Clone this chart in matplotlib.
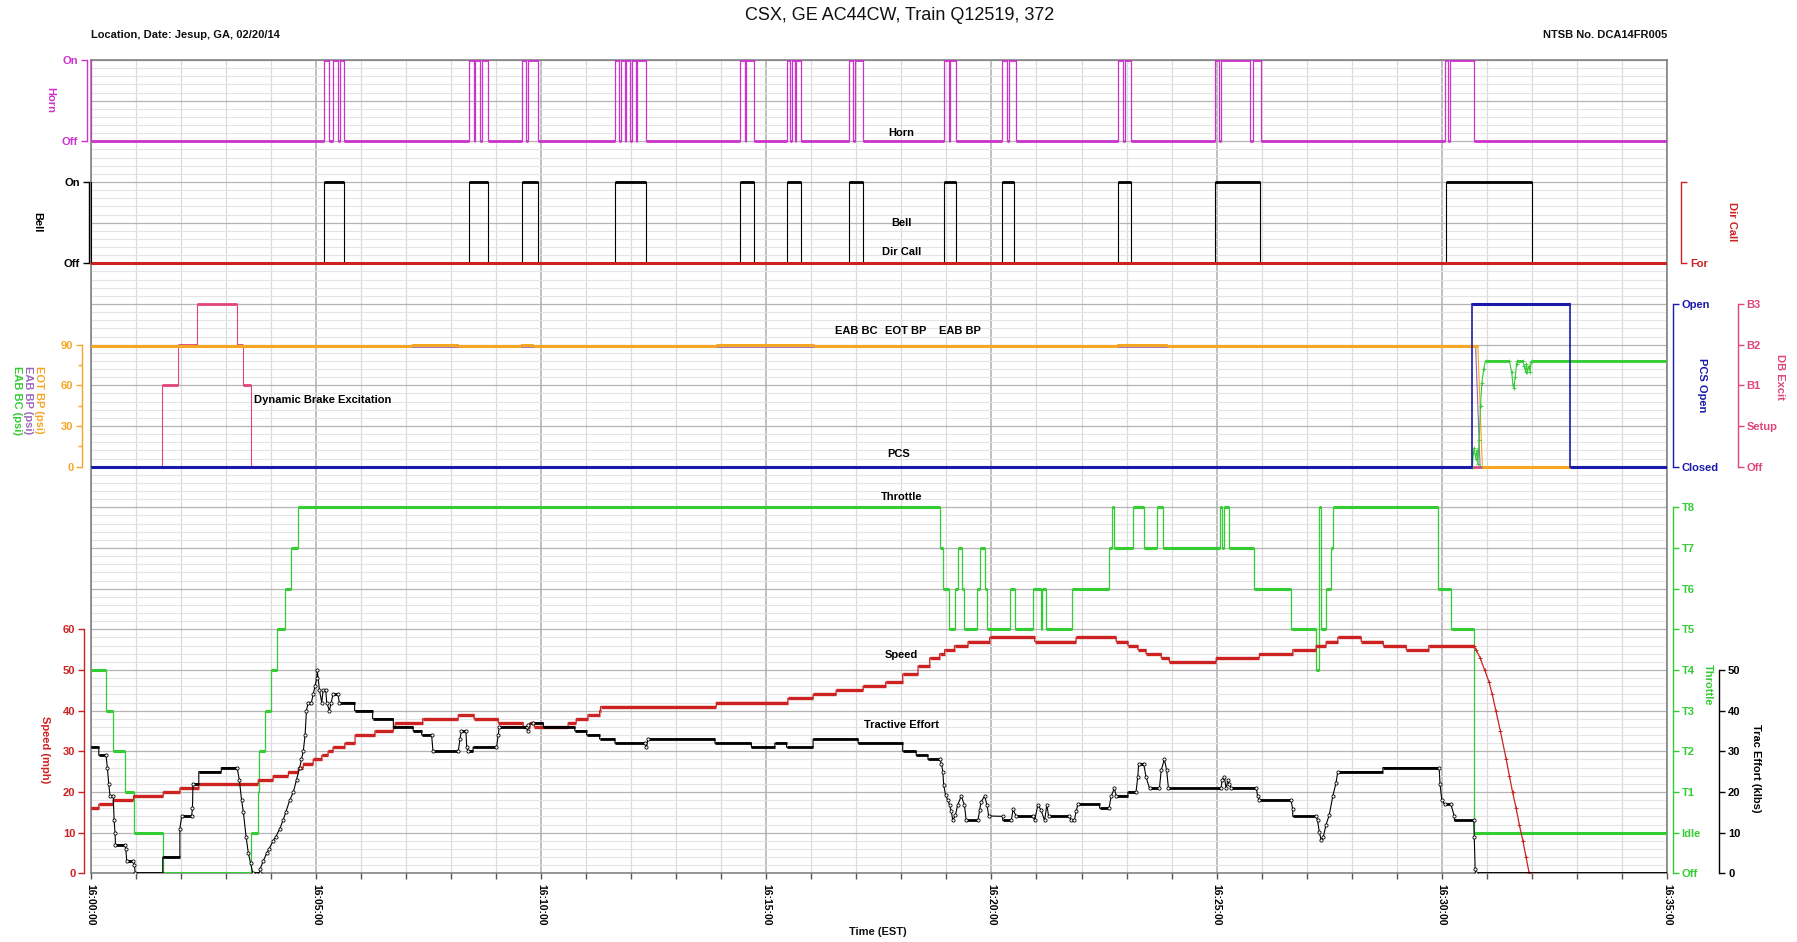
import matplotlib
matplotlib.use('Agg')
import matplotlib.pyplot as plt
import numpy as np

plt.rcParams['font.family'] = ['Liberation Sans', 'DejaVu Sans']

W, H = 1797, 942
# plot frame in pixels
PX_L, PX_R, PX_T, PX_B = 90.7, 1667.0, 60.0, 873.3
T_END = 35.0          # minutes after 16:00:00

C_HORN = '#CC33CC'
C_RED = '#CC2222'
C_ORANGE = '#F5A623'
C_PURPLE = '#9966BB'
C_GREEN = '#33CC33'
C_BLUE = '#1A1AAA'
C_DB = '#E0457B'
C_BLACK = '#000000'

# ---- recorder channels (time in minutes after 16:00:00) ----
HORN_ON_START = [0.00, 5.18, 5.38, 5.53, 8.39, 8.53, 8.68, 9.57, 9.70, 11.64, 11.78, 11.89,
                 12.01, 12.12, 14.41, 14.55, 15.45, 15.58, 15.66, 16.83, 16.97, 18.94, 19.09,
                 20.24, 20.40, 22.82, 22.96, 24.96, 25.09, 25.80, 30.07, 30.18]
HORN_ON_END = [0.01, 5.30, 5.50, 5.63, 8.50, 8.65, 8.82, 9.66, 9.94, 11.72, 11.86, 11.97,
               12.10, 12.32, 14.52, 14.72, 15.53, 15.63, 15.78, 16.92, 17.15, 19.05, 19.22,
               20.35, 20.55, 22.93, 23.10, 25.05, 25.73, 25.99, 30.13, 30.71]

BELL_ON_START = [0.00, 5.18, 8.39, 9.58, 11.64, 14.41, 15.45, 16.83, 18.94, 20.24, 22.82, 24.96, 30.10]
BELL_ON_END = [0.01, 5.63, 8.82, 9.94, 12.32, 14.72, 15.78, 17.15, 19.22, 20.51, 23.10, 25.97, 32.01]

DB_LABELS = ['Off', 'Setup', 'B1', 'B2', 'B3']
DB_T = [0.0, 1.59, 1.94, 2.37, 3.24, 3.39, 3.55]
DB_STEP = [0, 2, 3, 4, 3, 2, 0]

PCS_LABELS = ['Closed', 'Open']
PCS_T = [0.0, 30.68, 32.85]
PCS_STATE = [0, 1, 0]

EOT_T = [0, 7.14, 7.14, 8.16, 8.16, 9.56, 9.56, 9.82, 9.82, 13.9, 13.9, 16.05, 16.05,
         22.8, 22.8, 23.9, 23.9, 30.80, 30.90, 35.0]
EOT_PSI = [89, 89, 90, 90, 89, 89, 90, 90, 89, 89, 90, 90, 89, 89, 90, 90, 89, 89, 0, 0]

EABBP_T = [0, 30.75, 30.85, 35.0]
EABBP_PSI = [89, 89, 0, 0]

EABBC_T = [0, 30.68, 30.70, 30.72, 30.75, 30.78, 30.80, 30.83, 30.86, 30.89, 30.93, 30.97,
           31.50, 31.55, 31.58, 31.60, 31.63, 31.66, 31.68, 31.80, 31.83, 31.86, 31.88,
           31.90, 31.93, 31.96, 31.98, 32.00, 35.0]
EABBC_PSI = [0, 0, 10, 14, 6, 12, 2, 20, 45, 62, 72, 78,
             78, 70, 60, 58, 66, 76, 78, 78, 74, 70, 76,
             70, 74, 70, 77, 78, 78]

THROTTLE_LABELS = ['Off', 'Idle', 'T1', 'T2', 'T3', 'T4', 'T5', 'T6', 'T7', 'T8']
THROTTLE_T = [0.0, 0.34, 0.50, 0.76, 0.97, 1.60, 3.55, 3.72, 3.74, 3.87, 4.00, 4.13, 4.31,
              4.45, 4.60, 18.86, 18.92, 19.05, 19.20, 19.25, 19.35, 19.40, 19.68, 19.74,
              19.85, 19.90, 20.42, 20.53, 20.93, 21.09, 21.13, 21.22, 21.79, 22.61, 22.67,
              22.73, 23.15, 23.38, 23.67, 23.80, 25.08, 25.12, 25.16, 25.27, 25.84, 26.65,
              27.21, 27.28, 27.32, 27.43, 27.53, 27.59, 29.91, 30.21, 30.72]
THROTTLE_NOTCH = [5, 4, 3, 2, 1, 0, 1, 2, 3, 4, 5, 6, 7,
                  8, 9, 8, 7, 6, 7, 8, 7, 6, 7, 8,
                  7, 6, 7, 6, 7, 6, 7, 6, 7, 8, 9,
                  8, 9, 8, 9, 8, 9, 8, 9, 8, 7, 6,
                  5, 9, 6, 7, 8, 9, 7, 6, 1]

SPEED_T = [0.0, 0.18, 0.50, 0.95, 1.61, 1.98, 2.40, 3.72, 4.05, 4.39, 4.61, 4.72, 4.94,
           5.13, 5.27, 5.38, 5.64, 5.87, 6.31, 6.72, 6.76, 7.37, 8.16, 8.51, 9.05, 9.60,
           9.75, 9.85, 10.60, 10.78, 11.04, 11.30, 11.32, 13.89, 15.48, 16.04, 16.55, 17.15,
           17.65, 18.03, 18.37, 18.63, 18.85, 18.96, 19.18, 19.48, 19.96, 20.96, 21.88,
           22.77, 23.03, 23.25, 23.43, 23.77, 23.95, 24.99, 25.95, 26.69, 27.21, 27.43,
           27.69, 28.21, 28.70, 29.21, 29.71]
SPEED_MPH = [16, 17, 18, 19, 20, 21, 22, 23, 24, 25, 26, 27, 28,
             29, 30, 31, 32, 34, 35, 36, 37, 38, 39, 38, 37, 36,
             37, 36, 37, 38, 39, 40, 41, 42, 43, 44, 45, 46,
             47, 49, 51, 53, 54, 55, 56, 57, 58, 57, 58,
             57, 56, 55, 54, 53, 52, 53, 54, 55, 56, 57,
             58, 57, 56, 55, 56]
SPEED_DROP_T = [30.71, 30.76, 30.85, 30.95, 31.05, 31.12, 31.20, 31.30, 31.43, 31.50,
                31.57, 31.65, 31.72, 31.80, 31.87, 31.94]
SPEED_DROP_MPH = [56, 55, 53, 50, 47, 44, 40, 35, 28, 24, 20, 16, 12, 8, 4, 0]

TE_T = [0, 0.18, 0.18, 0.34, 0.37, 0.40, 0.43, 0.50, 0.52, 0.54, 0.55, 0.76, 0.78, 0.80,
        0.95, 0.97, 0.99, 1.60, 1.60, 1.98, 1.98, 2.02, 2.24, 2.26, 2.27, 2.40, 2.40, 2.90,
        2.90, 3.25, 3.30, 3.35, 3.39, 3.45, 3.50, 3.55, 3.60, 3.75, 3.76, 3.83, 3.91, 3.96,
        4.05, 4.11, 4.20, 4.27, 4.33, 4.42, 4.50, 4.57, 4.64, 4.68, 4.72, 4.76, 4.79, 4.83,
        4.90, 4.94, 4.98, 5.02, 5.03, 5.08, 5.13, 5.16, 5.22, 5.24, 5.30, 5.34, 5.38, 5.49,
        5.52, 5.86, 5.86, 6.26, 6.26, 6.72, 6.72, 7.16, 7.16, 7.35, 7.35, 7.57, 7.60, 8.16,
        8.20, 8.23, 8.33, 8.35, 8.38, 8.49, 8.49, 9.01, 9.05, 9.07, 9.68, 9.70, 9.71, 9.82,
        10.05, 10.05, 10.75, 10.75, 11.01, 11.01, 11.30, 11.30, 11.64, 11.64, 12.30, 12.34,
        12.37, 13.86, 13.86, 14.67, 14.67, 15.19, 15.19, 15.45, 15.45, 16.04, 16.04, 17.04,
        17.04, 18.03, 18.03, 18.33, 18.33, 18.59, 18.59, 18.85, 18.89, 18.92, 18.94, 18.98,
        19.03, 19.07, 19.11, 19.14, 19.20, 19.25, 19.33, 19.40, 19.44, 19.70, 19.74, 19.77,
        19.85, 19.90, 19.94, 20.25, 20.25, 20.44, 20.48, 20.55, 20.92, 20.96, 21.03, 21.10,
        21.18, 21.23, 21.27, 21.73, 21.77, 21.84, 21.88, 21.92, 22.40, 22.40, 22.61, 22.66,
        22.73, 22.77, 23.03, 23.03, 23.21, 23.25, 23.27, 23.38, 23.43, 23.51, 23.73, 23.77,
        23.84, 23.89, 23.93, 25.10, 25.12, 25.17, 25.21, 25.25, 25.28, 25.32, 25.88, 25.91,
        25.95, 26.65, 26.69, 26.69, 27.21, 27.24, 27.28, 27.32, 27.37, 27.43, 27.50, 27.58,
        27.65, 27.69, 28.69, 28.69, 29.94, 29.96, 30.00, 30.06, 30.20, 30.28, 30.28, 30.71,
        30.72, 30.74, 30.76, 35.0]
TE_KLBS = [31, 31, 29, 29, 26, 22, 19, 19, 13, 10, 7, 7, 6, 3,
           3, 2, 0, 0, 4, 4, 11, 14, 14, 16, 22, 22, 25, 25,
           26, 26, 23, 18, 15, 9, 5, 2.5, 0, 0, 1, 3, 5, 6,
           8, 9, 11, 13, 15, 18, 20, 23, 26, 28, 30, 34, 40, 42,
           42, 44, 46, 48, 50, 45, 42, 45, 45, 42, 40, 42, 44, 44,
           42, 42, 40, 40, 38, 38, 36, 36, 35, 35, 34, 34, 30, 30,
           33, 35, 35, 31, 30, 30, 31, 31, 34, 36, 36, 35, 36.5, 37,
           37, 36, 36, 35, 35, 34, 34, 33, 33, 32, 32, 31,
           33, 33, 32, 32, 31, 31, 32, 32, 31, 31, 33, 33,
           32, 32, 30, 30, 29, 29, 28, 28, 27, 25, 21.7, 19.3,
           18, 16.8, 15.2, 13.1, 14.3, 16.8, 19, 16.8, 13, 13, 15.6, 17.6,
           19, 16.8, 14.1, 14, 13, 13, 15.7, 14, 14, 13, 16.8, 15.6,
           13, 16.8, 14, 14, 13, 13, 15.2, 17, 17, 16, 16, 19,
           20.9, 19, 19, 20, 20, 23.8, 27, 27, 23.8, 20.9, 20.9, 25.4,
           28, 25.4, 20.9, 20.9, 22.9, 23.8, 20.9, 22.9, 22, 21, 21, 19,
           18, 18, 15.7, 14, 14, 13, 10.2, 8.1, 9, 12, 14.3, 19,
           22.2, 25, 25, 26, 26, 22, 18, 17, 17, 14, 13, 13,
           9, 1, 0, 0]

# vertical placement of the stacked channels (10 units per major grid row)
HORN_OFF, BELL_OFF, DIR_FOR, BRAKE_ZERO = 180, 150, 150, 100


def psi(v):
    return BRAKE_ZERO + np.asarray(v, float) / 3.0


def step_path(t, v, t_end=T_END):
    t = np.asarray(t, float)
    v = np.asarray(v, float)
    xs = np.empty(2 * len(t))
    ys = np.empty(2 * len(t))
    xs[0::2] = t
    xs[1::2] = np.append(t[1:], t_end)
    ys[0::2] = v
    ys[1::2] = v
    return xs, ys


def on_off(starts, ends, off, on):
    t, v = [], []
    if starts[0] > 0:
        t, v = [0.0], [off]
    for s, e in zip(starts, ends):
        t += [s, e]
        v += [on, off]
    return step_path(t, v)


def trace(ax, xs, ys, color, thin=0.8, thick=2.1, z=3):
    """Thin line through every sample, heavy where the value holds steady."""
    xs = np.asarray(xs, float)
    ys = np.asarray(ys, float)
    ax.plot(xs, ys, color=color, lw=thin, zorder=z, solid_joinstyle='miter')
    flat = (ys[1:] == ys[:-1]) & (xs[1:] > xs[:-1])
    ax.hlines(ys[:-1][flat], xs[:-1][flat], xs[1:][flat], colors=color, lw=thick, zorder=z)


def sloped_points(xs, ys):
    """Samples that sit on a ramp (neither flat nor a straight jump)."""
    xs = np.asarray(xs, float)
    ys = np.asarray(ys, float)
    ramp = (ys[1:] != ys[:-1]) & (xs[1:] > xs[:-1])
    keep = np.zeros(len(xs), bool)
    keep[:-1] |= ramp
    keep[1:] |= ramp
    return xs[keep], ys[keep]


def fpos(x, y):
    return x / W, 1 - y / H


fig = plt.figure(figsize=(W / 100, H / 100), dpi=100)
fig.patch.set_facecolor('white')
ax = fig.add_axes([PX_L / W, 1 - PX_B / H, (PX_R - PX_L) / W, (PX_B - PX_T) / H])
ax.set_xlim(0, T_END)
ax.set_ylim(0, 200)


def scale_axis(side, offset_px, lo, hi, ticks, labels, color, minor=()):
    a = ax.twinx()
    a.set_ylim(0, 200)
    for sp in a.spines.values():
        sp.set_visible(False)
    sp = a.spines[side]
    sp.set_visible(True)
    sp.set_position(('outward', offset_px * 0.72))
    sp.set_bounds(lo, hi)
    sp.set_color(color)
    sp.set_linewidth(1.0)
    a.yaxis.set_ticks_position(side)
    a.set_yticks(ticks)
    a.set_yticklabels(labels, fontweight='bold', fontsize=8)
    a.set_yticks(list(minor), minor=True)
    a.tick_params(axis='y', which='major', colors=color, length=4.5, width=1, pad=2)
    a.tick_params(axis='y', which='minor', colors=color, length=3, width=1)
    return a


# grid
ax.set_yticks(np.arange(0, 201, 10))
ax.set_yticks(np.arange(0, 201, 2), minor=True)
ax.set_xticks(np.arange(0, 36, 5))
ax.set_xticks(np.arange(0, 36, 1), minor=True)
ax.grid(True, which='major', axis='y', color='#B4B4B4', lw=0.9)
ax.grid(True, which='minor', axis='y', color='#E4E4E4', lw=0.8)
ax.grid(True, which='major', axis='x', color='#B4B4B4', lw=1.2)
ax.grid(True, which='minor', axis='x', color='#DCDCDC', lw=0.9)
ax.set_axisbelow(True)
for sp in ax.spines.values():
    sp.set_color('#7A7A7A')
    sp.set_linewidth(1.1)

# left scales
scale_axis('left', 3.7, 180, 200, [180, 200], ['Off', 'On'], C_HORN)
scale_axis('left', 2.0, 150, 170, [150, 170], ['Off', 'On'], C_BLACK)
scale_axis('left', 8.4, 100, 130, psi([0, 30, 60, 90]), ['0', '30', '60', '90'], C_ORANGE,
           minor=psi([15, 45, 75]))
scale_axis('left', 6.4, 0, 60, np.arange(0, 61, 10), [str(v) for v in range(0, 61, 10)], C_RED)

# right scales
scale_axis('right', 14.0, 150, 170, [150, 170], ['For', ''], C_RED)
scale_axis('right', 5.7, 100, 140, [100 + 40 * i for i in range(2)], PCS_LABELS, C_BLUE)
scale_axis('right', 70.7, 100, 140, [100 + 10 * i for i in range(5)], DB_LABELS, C_DB)
scale_axis('right', 5.7, 0, 90, [10 * i for i in range(10)], THROTTLE_LABELS, C_GREEN)
scale_axis('right', 52.0, 0, 50, np.arange(0, 51, 10), [str(v) for v in range(0, 51, 10)], C_BLACK)

ax.yaxis.set_ticks_position('none')
ax.tick_params(axis='y', which='both', length=0, labelleft=False, labelright=False)
ax.tick_params(axis='x', which='both', length=4.5, width=1, color='#555555', pad=3)
ax.set_xticklabels([f'16:{m:02d}:00' for m in range(0, 36, 5)], rotation=270,
                   fontsize=7.5, fontweight='bold', va='top', ha='center')

# horn / bell / direction
xs, ys = on_off(HORN_ON_START, HORN_ON_END, HORN_OFF, HORN_OFF + 20)
trace(ax, xs, ys, C_HORN, thin=0.9, thick=2.0, z=4)
xs, ys = on_off(BELL_ON_START, BELL_ON_END, BELL_OFF, BELL_OFF + 20)
trace(ax, xs, ys, C_BLACK, thin=0.8, thick=2.0, z=4)
ax.hlines(DIR_FOR, 0, T_END, colors=C_RED, lw=2.2, zorder=5)

# brake channels
xs, ys = step_path(DB_T, BRAKE_ZERO + 10 * np.asarray(DB_STEP))
trace(ax, xs, ys, C_DB, thin=0.8, thick=2.0, z=3)
trace(ax, EABBP_T, psi(EABBP_PSI), C_PURPLE, thin=0.8, thick=2.0, z=3)
trace(ax, EOT_T, psi(EOT_PSI), C_ORANGE, thin=0.8, thick=2.2, z=4)
trace(ax, EABBC_T, psi(EABBC_PSI), C_GREEN, thin=0.8, thick=2.0, z=5)
mx, my = sloped_points(EABBC_T, psi(EABBC_PSI))
ax.plot(mx, my, '+', color=C_GREEN, ms=3, mew=0.6, zorder=5)
xs, ys = step_path(PCS_T, BRAKE_ZERO + 40 * np.asarray(PCS_STATE))
trace(ax, xs, ys, C_BLUE, thin=1.2, thick=2.2, z=6)

# throttle, speed, tractive effort
xs, ys = step_path(THROTTLE_T, 10 * np.asarray(THROTTLE_NOTCH))
trace(ax, xs, ys, C_GREEN, thin=0.9, thick=2.2, z=3)
xs, ys = step_path(SPEED_T, SPEED_MPH, SPEED_DROP_T[0])
xs = np.concatenate([xs, SPEED_DROP_T])
ys = np.concatenate([ys, SPEED_DROP_MPH])
trace(ax, xs, ys, C_RED, thin=0.9, thick=2.4, z=4)
ax.plot(SPEED_DROP_T, SPEED_DROP_MPH, '+', color=C_RED, ms=3.5, mew=0.7, zorder=4)
trace(ax, TE_T, TE_KLBS, C_BLACK, thin=0.8, thick=2.0, z=5)
mx, my = sloped_points(TE_T, TE_KLBS)
ax.plot(mx, my, 'o', ms=2.3, mfc='white', mec=C_BLACK, mew=0.6, zorder=6)

# in-plot channel names
lab = dict(fontsize=8, fontweight='bold', color=C_BLACK, ha='center', va='center', zorder=7)
ax.text(18.0, 182.1, 'Horn', **lab)
ax.text(18.0, 159.8, 'Bell', **lab)
ax.text(18.0, 152.8, 'Dir Call', **lab)
ax.text(17.0, 133.3, 'EAB BC', **lab)
ax.text(18.09, 133.3, 'EOT BP', **lab)
ax.text(19.31, 133.3, 'EAB BP', **lab)
ax.text(3.62, 116.5, 'Dynamic Brake Excitation', fontsize=8, fontweight='bold',
        ha='left', va='center', zorder=7)
ax.text(17.95, 103.1, 'PCS', **lab)
ax.text(18.0, 92.6, 'Throttle', **lab)
ax.text(18.0, 53.7, 'Speed', **lab)
ax.text(18.0, 36.5, 'Tractive Effort', **lab)

# axis names beside the scales
side = dict(fontsize=8, fontweight='bold', rotation=270, ha='center', va='center')
fig.text(*fpos(50, 100), 'Horn', color=C_HORN, **side)
fig.text(*fpos(37.7, 222), 'Bell', color=C_BLACK, **side)
fig.text(*fpos(39.3, 400), 'EOT BP (psi)', color=C_ORANGE, **side)
fig.text(*fpos(28.3, 400), 'EAB BP (psi)', color=C_PURPLE, **side)
fig.text(*fpos(16.5, 400), 'EAB BC (psi)', color=C_GREEN, **side)
fig.text(*fpos(45, 750), 'Speed (mph)', color=C_RED, **side)
fig.text(*fpos(1731.7, 221.7), 'Dir Call', color=C_RED, **side)
fig.text(*fpos(1701.7, 385), 'PCS Open', color=C_BLUE, **side)
fig.text(*fpos(1780, 376.7), 'DB Excit', color=C_DB, **side)
fig.text(*fpos(1708, 685), 'Throttle', color=C_GREEN, **side)
fig.text(*fpos(1756, 768), 'Trac Effort (klbs)', color=C_BLACK, **side)

# headings
fig.text(*fpos(900, 16), 'CSX, GE AC44CW, Train Q12519, 372', fontsize=13,
         ha='center', va='center', color='#111111')
fig.text(*fpos(91, 35), 'Location, Date: Jesup, GA, 02/20/14', fontsize=8,
         fontweight='bold', ha='left', va='center', color='#111111')
fig.text(*fpos(1667, 35), 'NTSB No. DCA14FR005', fontsize=8,
         fontweight='bold', ha='right', va='center', color='#111111')
fig.text(*fpos(878, 932), 'Time (EST)', fontsize=8, fontweight='bold',
         ha='center', va='center', color='#111111')

fig.savefig('out.png', dpi=100, facecolor='white')
